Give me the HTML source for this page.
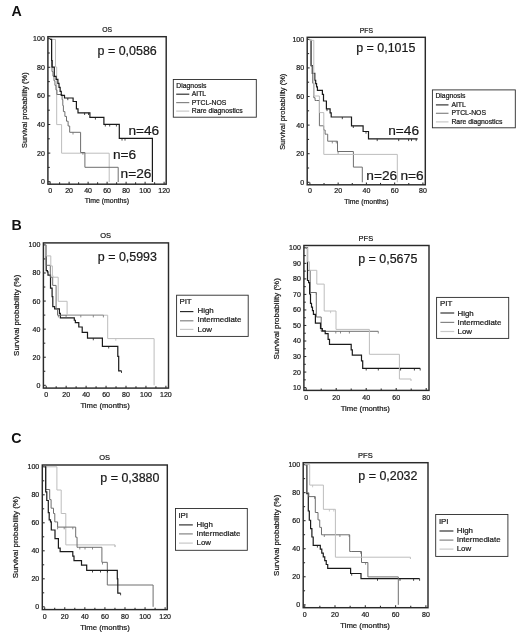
<!DOCTYPE html>
<html><head><meta charset="utf-8"><style>
html,body{margin:0;padding:0;background:#fff;}
svg{display:block;font-family:"Liberation Sans", sans-serif;filter:blur(0.3px);}
</style></head><body>
<svg width="520" height="638" viewBox="0 0 520 638">
<rect width="520" height="638" fill="#fff"/>
<line x1="50.10" y1="184.20" x2="50.10" y2="181.80" stroke="#2a2a2a" stroke-width="1.05"/>
<text x="50.10" y="192.90" font-size="7" text-anchor="middle" font-weight="normal" fill="#1a1a1a" stroke="#1a1a1a" stroke-width="0.22" >0</text>
<line x1="59.60" y1="184.20" x2="59.60" y2="182.30" stroke="#2a2a2a" stroke-width="1.05"/>
<line x1="69.10" y1="184.20" x2="69.10" y2="181.80" stroke="#2a2a2a" stroke-width="1.05"/>
<text x="69.10" y="192.90" font-size="7" text-anchor="middle" font-weight="normal" fill="#1a1a1a" stroke="#1a1a1a" stroke-width="0.22" >20</text>
<line x1="78.60" y1="184.20" x2="78.60" y2="182.30" stroke="#2a2a2a" stroke-width="1.05"/>
<line x1="88.10" y1="184.20" x2="88.10" y2="181.80" stroke="#2a2a2a" stroke-width="1.05"/>
<text x="88.10" y="192.90" font-size="7" text-anchor="middle" font-weight="normal" fill="#1a1a1a" stroke="#1a1a1a" stroke-width="0.22" >40</text>
<line x1="97.60" y1="184.20" x2="97.60" y2="182.30" stroke="#2a2a2a" stroke-width="1.05"/>
<line x1="107.10" y1="184.20" x2="107.10" y2="181.80" stroke="#2a2a2a" stroke-width="1.05"/>
<text x="107.10" y="192.90" font-size="7" text-anchor="middle" font-weight="normal" fill="#1a1a1a" stroke="#1a1a1a" stroke-width="0.22" >60</text>
<line x1="116.60" y1="184.20" x2="116.60" y2="182.30" stroke="#2a2a2a" stroke-width="1.05"/>
<line x1="126.10" y1="184.20" x2="126.10" y2="181.80" stroke="#2a2a2a" stroke-width="1.05"/>
<text x="126.10" y="192.90" font-size="7" text-anchor="middle" font-weight="normal" fill="#1a1a1a" stroke="#1a1a1a" stroke-width="0.22" >80</text>
<line x1="135.60" y1="184.20" x2="135.60" y2="182.30" stroke="#2a2a2a" stroke-width="1.05"/>
<line x1="145.10" y1="184.20" x2="145.10" y2="181.80" stroke="#2a2a2a" stroke-width="1.05"/>
<text x="145.10" y="192.90" font-size="7" text-anchor="middle" font-weight="normal" fill="#1a1a1a" stroke="#1a1a1a" stroke-width="0.22" >100</text>
<line x1="154.60" y1="184.20" x2="154.60" y2="182.30" stroke="#2a2a2a" stroke-width="1.05"/>
<line x1="164.10" y1="184.20" x2="164.10" y2="181.80" stroke="#2a2a2a" stroke-width="1.05"/>
<text x="164.10" y="192.90" font-size="7" text-anchor="middle" font-weight="normal" fill="#1a1a1a" stroke="#1a1a1a" stroke-width="0.22" >120</text>
<line x1="47.90" y1="167.40" x2="49.80" y2="167.40" stroke="#2a2a2a" stroke-width="1.05"/>
<line x1="47.90" y1="138.80" x2="49.80" y2="138.80" stroke="#2a2a2a" stroke-width="1.05"/>
<line x1="47.90" y1="110.20" x2="49.80" y2="110.20" stroke="#2a2a2a" stroke-width="1.05"/>
<line x1="47.90" y1="81.60" x2="49.80" y2="81.60" stroke="#2a2a2a" stroke-width="1.05"/>
<line x1="47.90" y1="53.00" x2="49.80" y2="53.00" stroke="#2a2a2a" stroke-width="1.05"/>
<line x1="47.90" y1="181.70" x2="50.30" y2="181.70" stroke="#2a2a2a" stroke-width="1.05"/>
<text x="44.80" y="184.15" font-size="7" text-anchor="end" font-weight="normal" fill="#1a1a1a" stroke="#1a1a1a" stroke-width="0.22" >0</text>
<line x1="47.90" y1="153.10" x2="50.30" y2="153.10" stroke="#2a2a2a" stroke-width="1.05"/>
<text x="44.80" y="155.55" font-size="7" text-anchor="end" font-weight="normal" fill="#1a1a1a" stroke="#1a1a1a" stroke-width="0.22" >20</text>
<line x1="47.90" y1="124.50" x2="50.30" y2="124.50" stroke="#2a2a2a" stroke-width="1.05"/>
<text x="44.80" y="126.95" font-size="7" text-anchor="end" font-weight="normal" fill="#1a1a1a" stroke="#1a1a1a" stroke-width="0.22" >40</text>
<line x1="47.90" y1="95.90" x2="50.30" y2="95.90" stroke="#2a2a2a" stroke-width="1.05"/>
<text x="44.80" y="98.35" font-size="7" text-anchor="end" font-weight="normal" fill="#1a1a1a" stroke="#1a1a1a" stroke-width="0.22" >60</text>
<line x1="47.90" y1="67.30" x2="50.30" y2="67.30" stroke="#2a2a2a" stroke-width="1.05"/>
<text x="44.80" y="69.75" font-size="7" text-anchor="end" font-weight="normal" fill="#1a1a1a" stroke="#1a1a1a" stroke-width="0.22" >80</text>
<line x1="47.90" y1="38.70" x2="50.30" y2="38.70" stroke="#2a2a2a" stroke-width="1.05"/>
<text x="44.80" y="41.15" font-size="7" text-anchor="end" font-weight="normal" fill="#1a1a1a" stroke="#1a1a1a" stroke-width="0.22" >100</text>
<path d="M50.10 39.40 H55.50 V67.00 H56.70 V124.60 H61.60 V153.20 H109.20 V182.00" fill="none" stroke="#bdbdbd" stroke-width="1.0" stroke-linejoin="miter"/>
<path d="M50.10 39.40 H51.60 V67.00 H52.00 V71.58 H52.98 V76.17 H53.97 V80.75 H54.95 V85.33 H55.93 V89.92 H56.92 V94.50 H57.90 H62.10 V99.60 H62.80 V105.60 H63.40 V111.60 H64.00 H64.90 V116.40 H66.50 V121.20 H68.10 V126.00 H69.70 V132.30 H80.60 V152.50 H84.90 V167.30 H118.20 V182.00" fill="none" stroke="#6e6e6e" stroke-width="1.0" stroke-linejoin="miter"/>
<path d="M50.10 39.40 H51.60 V60.50 H52.20 V67.10 H54.30 V73.30 V76.30 H56.10 V79.30 H57.90 V83.33 H59.02 V87.35 H60.15 V91.38 H61.27 V95.40 H62.40 H64.50 V98.00 H73.10 V101.50 H76.40 V105.00 V108.90 H78.00 V112.80 H79.60 H89.90 V117.40 H103.90 V124.30 H119.30 V138.40 H152.40 V182.00" fill="none" stroke="#1a1a1a" stroke-width="1.2" stroke-linejoin="miter"/>
<line x1="67.80" y1="98.00" x2="67.80" y2="100.20" stroke="#1a1a1a" stroke-width="0.8"/>
<line x1="84.60" y1="112.80" x2="84.60" y2="115.00" stroke="#1a1a1a" stroke-width="0.8"/>
<line x1="88.50" y1="112.80" x2="88.50" y2="115.00" stroke="#1a1a1a" stroke-width="0.8"/>
<line x1="95.40" y1="117.40" x2="95.40" y2="119.60" stroke="#1a1a1a" stroke-width="0.8"/>
<line x1="105.30" y1="124.30" x2="105.30" y2="126.50" stroke="#1a1a1a" stroke-width="0.8"/>
<line x1="109.70" y1="124.30" x2="109.70" y2="126.50" stroke="#1a1a1a" stroke-width="0.8"/>
<line x1="116.40" y1="124.30" x2="116.40" y2="126.50" stroke="#1a1a1a" stroke-width="0.8"/>
<line x1="122.00" y1="138.40" x2="122.00" y2="140.60" stroke="#1a1a1a" stroke-width="0.8"/>
<line x1="125.00" y1="138.40" x2="125.00" y2="140.60" stroke="#1a1a1a" stroke-width="0.8"/>
<line x1="73.00" y1="132.30" x2="73.00" y2="134.50" stroke="#6e6e6e" stroke-width="0.8"/>
<line x1="82.90" y1="152.50" x2="82.90" y2="154.70" stroke="#6e6e6e" stroke-width="0.8"/>
<rect x="47.90" y="36.70" width="118.30" height="147.50" fill="none" stroke="#2a2a2a" stroke-width="1.45"/>
<text x="107.05" y="32.20" font-size="6.8" text-anchor="middle" font-weight="normal" fill="#1a1a1a" stroke="#1a1a1a" stroke-width="0.22" >OS</text>
<text x="97.60" y="54.75" font-size="12.45" text-anchor="start" font-weight="normal" fill="#1a1a1a" stroke="#1a1a1a" stroke-width="0.22" >p = 0,0586</text>
<text x="106.90" y="202.90" font-size="6.9" text-anchor="middle" font-weight="normal" fill="#1a1a1a" stroke="#1a1a1a" stroke-width="0.22" >Time (months)</text>
<text x="27.00" y="110.20" font-size="7.4" text-anchor="middle" font-weight="normal" fill="#1a1a1a" stroke="#1a1a1a" stroke-width="0.22" transform="rotate(-90 27.00 110.20)">Survival probability (%)</text>
<text x="128.40" y="134.80" font-size="13.7" text-anchor="start" font-weight="normal" fill="#1a1a1a" stroke="#1a1a1a" stroke-width="0.22" >n=46</text>
<text x="112.90" y="158.70" font-size="13.7" text-anchor="start" font-weight="normal" fill="#1a1a1a" stroke="#1a1a1a" stroke-width="0.22" >n=6</text>
<text x="120.60" y="178.30" font-size="13.7" text-anchor="start" font-weight="normal" fill="#1a1a1a" stroke="#1a1a1a" stroke-width="0.22" >n=26</text>
<rect x="173.30" y="79.50" width="83.00" height="37.70" fill="none" stroke="#2a2a2a" stroke-width="0.9"/>
<text x="176.30" y="87.70" font-size="6.85" text-anchor="start" font-weight="normal" fill="#1a1a1a" stroke="#1a1a1a" stroke-width="0.22" >Diagnosis</text>
<line x1="176.20" y1="94.20" x2="189.30" y2="94.20" stroke="#2a2a2a" stroke-width="1.15"/>
<text x="191.70" y="95.80" font-size="6.85" text-anchor="start" font-weight="normal" fill="#1a1a1a" stroke="#1a1a1a" stroke-width="0.22" >AITL</text>
<line x1="176.20" y1="102.60" x2="189.30" y2="102.60" stroke="#858585" stroke-width="1.2"/>
<text x="191.70" y="104.90" font-size="6.85" text-anchor="start" font-weight="normal" fill="#1a1a1a" stroke="#1a1a1a" stroke-width="0.22" >PTCL-NOS</text>
<line x1="176.20" y1="111.10" x2="189.30" y2="111.10" stroke="#c8c8c8" stroke-width="1.2"/>
<text x="191.70" y="113.40" font-size="6.85" text-anchor="start" font-weight="normal" fill="#1a1a1a" stroke="#1a1a1a" stroke-width="0.22" >Rare diagnostics</text>
<line x1="309.90" y1="184.80" x2="309.90" y2="182.40" stroke="#2a2a2a" stroke-width="1.05"/>
<text x="309.90" y="193.40" font-size="7" text-anchor="middle" font-weight="normal" fill="#1a1a1a" stroke="#1a1a1a" stroke-width="0.22" >0</text>
<line x1="324.02" y1="184.80" x2="324.02" y2="182.90" stroke="#2a2a2a" stroke-width="1.05"/>
<line x1="338.15" y1="184.80" x2="338.15" y2="182.40" stroke="#2a2a2a" stroke-width="1.05"/>
<text x="338.15" y="193.40" font-size="7" text-anchor="middle" font-weight="normal" fill="#1a1a1a" stroke="#1a1a1a" stroke-width="0.22" >20</text>
<line x1="352.27" y1="184.80" x2="352.27" y2="182.90" stroke="#2a2a2a" stroke-width="1.05"/>
<line x1="366.40" y1="184.80" x2="366.40" y2="182.40" stroke="#2a2a2a" stroke-width="1.05"/>
<text x="366.40" y="193.40" font-size="7" text-anchor="middle" font-weight="normal" fill="#1a1a1a" stroke="#1a1a1a" stroke-width="0.22" >40</text>
<line x1="380.52" y1="184.80" x2="380.52" y2="182.90" stroke="#2a2a2a" stroke-width="1.05"/>
<line x1="394.65" y1="184.80" x2="394.65" y2="182.40" stroke="#2a2a2a" stroke-width="1.05"/>
<text x="394.65" y="193.40" font-size="7" text-anchor="middle" font-weight="normal" fill="#1a1a1a" stroke="#1a1a1a" stroke-width="0.22" >60</text>
<line x1="408.77" y1="184.80" x2="408.77" y2="182.90" stroke="#2a2a2a" stroke-width="1.05"/>
<line x1="422.90" y1="184.80" x2="422.90" y2="182.40" stroke="#2a2a2a" stroke-width="1.05"/>
<text x="422.90" y="193.40" font-size="7" text-anchor="middle" font-weight="normal" fill="#1a1a1a" stroke="#1a1a1a" stroke-width="0.22" >80</text>
<line x1="307.20" y1="168.00" x2="309.10" y2="168.00" stroke="#2a2a2a" stroke-width="1.05"/>
<line x1="307.20" y1="139.40" x2="309.10" y2="139.40" stroke="#2a2a2a" stroke-width="1.05"/>
<line x1="307.20" y1="110.80" x2="309.10" y2="110.80" stroke="#2a2a2a" stroke-width="1.05"/>
<line x1="307.20" y1="82.20" x2="309.10" y2="82.20" stroke="#2a2a2a" stroke-width="1.05"/>
<line x1="307.20" y1="53.60" x2="309.10" y2="53.60" stroke="#2a2a2a" stroke-width="1.05"/>
<line x1="307.20" y1="182.30" x2="309.60" y2="182.30" stroke="#2a2a2a" stroke-width="1.05"/>
<text x="304.10" y="184.75" font-size="7" text-anchor="end" font-weight="normal" fill="#1a1a1a" stroke="#1a1a1a" stroke-width="0.22" >0</text>
<line x1="307.20" y1="153.70" x2="309.60" y2="153.70" stroke="#2a2a2a" stroke-width="1.05"/>
<text x="304.10" y="156.15" font-size="7" text-anchor="end" font-weight="normal" fill="#1a1a1a" stroke="#1a1a1a" stroke-width="0.22" >20</text>
<line x1="307.20" y1="125.10" x2="309.60" y2="125.10" stroke="#2a2a2a" stroke-width="1.05"/>
<text x="304.10" y="127.55" font-size="7" text-anchor="end" font-weight="normal" fill="#1a1a1a" stroke="#1a1a1a" stroke-width="0.22" >40</text>
<line x1="307.20" y1="96.50" x2="309.60" y2="96.50" stroke="#2a2a2a" stroke-width="1.05"/>
<text x="304.10" y="98.95" font-size="7" text-anchor="end" font-weight="normal" fill="#1a1a1a" stroke="#1a1a1a" stroke-width="0.22" >60</text>
<line x1="307.20" y1="67.90" x2="309.60" y2="67.90" stroke="#2a2a2a" stroke-width="1.05"/>
<text x="304.10" y="70.35" font-size="7" text-anchor="end" font-weight="normal" fill="#1a1a1a" stroke="#1a1a1a" stroke-width="0.22" >80</text>
<line x1="307.20" y1="39.30" x2="309.60" y2="39.30" stroke="#2a2a2a" stroke-width="1.05"/>
<text x="304.10" y="41.75" font-size="7" text-anchor="end" font-weight="normal" fill="#1a1a1a" stroke="#1a1a1a" stroke-width="0.22" >100</text>
<path d="M309.90 40.30 H311.10 V65.60 H312.30 V73.30 H314.80 V76.90 V80.25 H315.68 V83.60 H316.55 V86.95 H317.43 V90.30 H318.30 H322.40 V94.40 H323.50 V101.00 H326.40 V108.90 H330.10 V112.95 H331.20 V117.00 H332.30 H351.50 V125.80 H363.10 V131.50 H368.50 V138.90 H417.60" fill="none" stroke="#1a1a1a" stroke-width="1.2" stroke-linejoin="miter"/>
<path d="M309.90 40.30 H311.10 V66.00 H312.70 V83.20 H313.80 V95.00 V97.75 H315.05 V100.50 H316.30 H319.40 V125.80 H323.70 V130.00 H325.10 V134.20 H326.50 H327.70 V141.20 H337.50 V151.50 H353.40 V167.10 H362.30 V182.30" fill="none" stroke="#6e6e6e" stroke-width="1.0" stroke-linejoin="miter"/>
<path d="M309.90 40.30 H313.80 V96.00 H319.40 V112.60 H323.80 V154.40 H397.30 V182.30" fill="none" stroke="#bdbdbd" stroke-width="1.0" stroke-linejoin="miter"/>
<line x1="327.00" y1="108.90" x2="327.00" y2="111.10" stroke="#1a1a1a" stroke-width="0.8"/>
<line x1="342.30" y1="117.00" x2="342.30" y2="119.20" stroke="#1a1a1a" stroke-width="0.8"/>
<line x1="353.30" y1="125.80" x2="353.30" y2="128.00" stroke="#1a1a1a" stroke-width="0.8"/>
<line x1="366.00" y1="131.50" x2="366.00" y2="133.70" stroke="#1a1a1a" stroke-width="0.8"/>
<line x1="377.20" y1="138.90" x2="377.20" y2="141.10" stroke="#1a1a1a" stroke-width="0.8"/>
<line x1="398.70" y1="138.90" x2="398.70" y2="141.10" stroke="#1a1a1a" stroke-width="0.8"/>
<line x1="408.60" y1="138.90" x2="408.60" y2="141.10" stroke="#1a1a1a" stroke-width="0.8"/>
<line x1="411.50" y1="138.90" x2="411.50" y2="141.10" stroke="#1a1a1a" stroke-width="0.8"/>
<line x1="416.20" y1="138.90" x2="416.20" y2="141.10" stroke="#1a1a1a" stroke-width="0.8"/>
<line x1="332.30" y1="141.20" x2="332.30" y2="143.40" stroke="#6e6e6e" stroke-width="0.8"/>
<line x1="336.30" y1="141.20" x2="336.30" y2="143.40" stroke="#6e6e6e" stroke-width="0.8"/>
<line x1="338.10" y1="151.50" x2="338.10" y2="153.70" stroke="#6e6e6e" stroke-width="0.8"/>
<rect x="307.20" y="37.30" width="118.10" height="147.50" fill="none" stroke="#2a2a2a" stroke-width="1.45"/>
<text x="366.40" y="33.10" font-size="6.8" text-anchor="middle" font-weight="normal" fill="#1a1a1a" stroke="#1a1a1a" stroke-width="0.22" >PFS</text>
<text x="356.20" y="51.90" font-size="12.45" text-anchor="start" font-weight="normal" fill="#1a1a1a" stroke="#1a1a1a" stroke-width="0.22" >p = 0,1015</text>
<text x="366.40" y="204.10" font-size="6.9" text-anchor="middle" font-weight="normal" fill="#1a1a1a" stroke="#1a1a1a" stroke-width="0.22" >Time (months)</text>
<text x="285.10" y="111.80" font-size="7.45" text-anchor="middle" font-weight="normal" fill="#1a1a1a" stroke="#1a1a1a" stroke-width="0.22" transform="rotate(-90 285.10 111.80)">Survival probability (%)</text>
<text x="388.20" y="135.30" font-size="13.7" text-anchor="start" font-weight="normal" fill="#1a1a1a" stroke="#1a1a1a" stroke-width="0.22" >n=46</text>
<text x="366.30" y="179.80" font-size="13.7" text-anchor="start" font-weight="normal" fill="#1a1a1a" stroke="#1a1a1a" stroke-width="0.22" >n=26</text>
<text x="400.50" y="179.80" font-size="13.7" text-anchor="start" font-weight="normal" fill="#1a1a1a" stroke="#1a1a1a" stroke-width="0.22" >n=6</text>
<rect x="432.40" y="89.90" width="82.90" height="37.90" fill="none" stroke="#2a2a2a" stroke-width="0.9"/>
<text x="435.40" y="97.70" font-size="6.85" text-anchor="start" font-weight="normal" fill="#1a1a1a" stroke="#1a1a1a" stroke-width="0.22" >Diagnosis</text>
<line x1="435.90" y1="104.90" x2="448.50" y2="104.90" stroke="#2a2a2a" stroke-width="1.15"/>
<text x="451.40" y="106.60" font-size="6.85" text-anchor="start" font-weight="normal" fill="#1a1a1a" stroke="#1a1a1a" stroke-width="0.22" >AITL</text>
<line x1="435.90" y1="113.30" x2="448.50" y2="113.30" stroke="#858585" stroke-width="1.2"/>
<text x="451.40" y="115.00" font-size="6.85" text-anchor="start" font-weight="normal" fill="#1a1a1a" stroke="#1a1a1a" stroke-width="0.22" >PTCL-NOS</text>
<line x1="435.90" y1="121.90" x2="448.50" y2="121.90" stroke="#c8c8c8" stroke-width="1.2"/>
<text x="451.40" y="123.60" font-size="6.85" text-anchor="start" font-weight="normal" fill="#1a1a1a" stroke="#1a1a1a" stroke-width="0.22" >Rare diagnostics</text>
<line x1="46.20" y1="388.10" x2="46.20" y2="385.70" stroke="#2a2a2a" stroke-width="1.05"/>
<text x="46.20" y="397.25" font-size="7" text-anchor="middle" font-weight="normal" fill="#1a1a1a" stroke="#1a1a1a" stroke-width="0.22" >0</text>
<line x1="56.18" y1="388.10" x2="56.18" y2="386.20" stroke="#2a2a2a" stroke-width="1.05"/>
<line x1="66.15" y1="388.10" x2="66.15" y2="385.70" stroke="#2a2a2a" stroke-width="1.05"/>
<text x="66.15" y="397.25" font-size="7" text-anchor="middle" font-weight="normal" fill="#1a1a1a" stroke="#1a1a1a" stroke-width="0.22" >20</text>
<line x1="76.12" y1="388.10" x2="76.12" y2="386.20" stroke="#2a2a2a" stroke-width="1.05"/>
<line x1="86.10" y1="388.10" x2="86.10" y2="385.70" stroke="#2a2a2a" stroke-width="1.05"/>
<text x="86.10" y="397.25" font-size="7" text-anchor="middle" font-weight="normal" fill="#1a1a1a" stroke="#1a1a1a" stroke-width="0.22" >40</text>
<line x1="96.08" y1="388.10" x2="96.08" y2="386.20" stroke="#2a2a2a" stroke-width="1.05"/>
<line x1="106.05" y1="388.10" x2="106.05" y2="385.70" stroke="#2a2a2a" stroke-width="1.05"/>
<text x="106.05" y="397.25" font-size="7" text-anchor="middle" font-weight="normal" fill="#1a1a1a" stroke="#1a1a1a" stroke-width="0.22" >60</text>
<line x1="116.03" y1="388.10" x2="116.03" y2="386.20" stroke="#2a2a2a" stroke-width="1.05"/>
<line x1="126.00" y1="388.10" x2="126.00" y2="385.70" stroke="#2a2a2a" stroke-width="1.05"/>
<text x="126.00" y="397.25" font-size="7" text-anchor="middle" font-weight="normal" fill="#1a1a1a" stroke="#1a1a1a" stroke-width="0.22" >80</text>
<line x1="135.98" y1="388.10" x2="135.98" y2="386.20" stroke="#2a2a2a" stroke-width="1.05"/>
<line x1="145.95" y1="388.10" x2="145.95" y2="385.70" stroke="#2a2a2a" stroke-width="1.05"/>
<text x="145.95" y="397.25" font-size="7" text-anchor="middle" font-weight="normal" fill="#1a1a1a" stroke="#1a1a1a" stroke-width="0.22" >100</text>
<line x1="155.93" y1="388.10" x2="155.93" y2="386.20" stroke="#2a2a2a" stroke-width="1.05"/>
<line x1="165.90" y1="388.10" x2="165.90" y2="385.70" stroke="#2a2a2a" stroke-width="1.05"/>
<text x="165.90" y="397.25" font-size="7" text-anchor="middle" font-weight="normal" fill="#1a1a1a" stroke="#1a1a1a" stroke-width="0.22" >120</text>
<line x1="43.40" y1="371.26" x2="45.30" y2="371.26" stroke="#2a2a2a" stroke-width="1.05"/>
<line x1="43.40" y1="343.18" x2="45.30" y2="343.18" stroke="#2a2a2a" stroke-width="1.05"/>
<line x1="43.40" y1="315.10" x2="45.30" y2="315.10" stroke="#2a2a2a" stroke-width="1.05"/>
<line x1="43.40" y1="287.02" x2="45.30" y2="287.02" stroke="#2a2a2a" stroke-width="1.05"/>
<line x1="43.40" y1="258.94" x2="45.30" y2="258.94" stroke="#2a2a2a" stroke-width="1.05"/>
<line x1="43.40" y1="385.30" x2="45.80" y2="385.30" stroke="#2a2a2a" stroke-width="1.05"/>
<text x="40.30" y="387.75" font-size="7" text-anchor="end" font-weight="normal" fill="#1a1a1a" stroke="#1a1a1a" stroke-width="0.22" >0</text>
<line x1="43.40" y1="357.22" x2="45.80" y2="357.22" stroke="#2a2a2a" stroke-width="1.05"/>
<text x="40.30" y="359.67" font-size="7" text-anchor="end" font-weight="normal" fill="#1a1a1a" stroke="#1a1a1a" stroke-width="0.22" >20</text>
<line x1="43.40" y1="329.14" x2="45.80" y2="329.14" stroke="#2a2a2a" stroke-width="1.05"/>
<text x="40.30" y="331.59" font-size="7" text-anchor="end" font-weight="normal" fill="#1a1a1a" stroke="#1a1a1a" stroke-width="0.22" >40</text>
<line x1="43.40" y1="301.06" x2="45.80" y2="301.06" stroke="#2a2a2a" stroke-width="1.05"/>
<text x="40.30" y="303.51" font-size="7" text-anchor="end" font-weight="normal" fill="#1a1a1a" stroke="#1a1a1a" stroke-width="0.22" >60</text>
<line x1="43.40" y1="272.98" x2="45.80" y2="272.98" stroke="#2a2a2a" stroke-width="1.05"/>
<text x="40.30" y="275.43" font-size="7" text-anchor="end" font-weight="normal" fill="#1a1a1a" stroke="#1a1a1a" stroke-width="0.22" >80</text>
<line x1="43.40" y1="244.90" x2="45.80" y2="244.90" stroke="#2a2a2a" stroke-width="1.05"/>
<text x="40.30" y="247.35" font-size="7" text-anchor="end" font-weight="normal" fill="#1a1a1a" stroke="#1a1a1a" stroke-width="0.22" >100</text>
<path d="M46.20 244.90 V270.60 H47.40 V271.80 H48.00 V275.10 H50.50 V288.10 H52.10 V296.60 H52.80 V304.30 V306.60 H54.65 V308.90 H56.50 H59.40 V313.35 H60.35 V317.80 H61.30 H74.30 V320.25 H75.35 V322.70 H76.40 H78.80 V327.00 H82.20 V332.30 H87.50 V338.10 H102.40 V346.30 H117.80 V356.30 H118.70 V370.80 H121.50" fill="none" stroke="#1a1a1a" stroke-width="1.2" stroke-linejoin="miter"/>
<path d="M46.20 244.90 V265.30 H50.30 V277.20 H52.70 V285.40 H56.10 V309.00 H57.50 V315.20 H103.40" fill="none" stroke="#6e6e6e" stroke-width="1.0" stroke-linejoin="miter"/>
<path d="M46.20 244.90 V255.90 H50.80 V265.90 H52.40 V275.60 H53.00 V277.20 H58.20 V301.30 H67.10 V315.20 H107.70 V338.60 H154.10 V385.30" fill="none" stroke="#bdbdbd" stroke-width="1.0" stroke-linejoin="miter"/>
<line x1="93.30" y1="338.10" x2="93.30" y2="340.30" stroke="#1a1a1a" stroke-width="0.8"/>
<line x1="108.70" y1="346.30" x2="108.70" y2="348.50" stroke="#1a1a1a" stroke-width="0.8"/>
<line x1="121.50" y1="370.80" x2="121.50" y2="373.00" stroke="#1a1a1a" stroke-width="0.8"/>
<line x1="58.40" y1="315.20" x2="58.40" y2="317.40" stroke="#6e6e6e" stroke-width="0.8"/>
<line x1="66.10" y1="315.20" x2="66.10" y2="317.40" stroke="#6e6e6e" stroke-width="0.8"/>
<line x1="80.80" y1="315.20" x2="80.80" y2="317.40" stroke="#6e6e6e" stroke-width="0.8"/>
<line x1="93.30" y1="315.20" x2="93.30" y2="317.40" stroke="#6e6e6e" stroke-width="0.8"/>
<line x1="103.40" y1="315.20" x2="103.40" y2="317.40" stroke="#6e6e6e" stroke-width="0.8"/>
<line x1="115.80" y1="338.60" x2="115.80" y2="340.80" stroke="#bdbdbd" stroke-width="0.8"/>
<rect x="43.40" y="242.90" width="125.10" height="145.20" fill="none" stroke="#2a2a2a" stroke-width="1.45"/>
<text x="105.70" y="238.20" font-size="7.5" text-anchor="middle" font-weight="normal" fill="#1a1a1a" stroke="#1a1a1a" stroke-width="0.22" >OS</text>
<text x="97.80" y="260.70" font-size="12.45" text-anchor="start" font-weight="normal" fill="#1a1a1a" stroke="#1a1a1a" stroke-width="0.22" >p = 0,5993</text>
<text x="105.10" y="408.30" font-size="7.7" text-anchor="middle" font-weight="normal" fill="#1a1a1a" stroke="#1a1a1a" stroke-width="0.22" >Time (months)</text>
<text x="19.30" y="315.30" font-size="7.95" text-anchor="middle" font-weight="normal" fill="#1a1a1a" stroke="#1a1a1a" stroke-width="0.22" transform="rotate(-90 19.30 315.30)">Survival probability (%)</text>
<rect x="176.60" y="295.20" width="71.60" height="41.20" fill="none" stroke="#2a2a2a" stroke-width="0.9"/>
<text x="179.40" y="303.80" font-size="7.9" text-anchor="start" font-weight="normal" fill="#1a1a1a" stroke="#1a1a1a" stroke-width="0.22" >PIT</text>
<line x1="180.00" y1="311.60" x2="193.40" y2="311.60" stroke="#2a2a2a" stroke-width="1.15"/>
<text x="197.50" y="313.40" font-size="7.9" text-anchor="start" font-weight="normal" fill="#1a1a1a" stroke="#1a1a1a" stroke-width="0.22" >High</text>
<line x1="180.00" y1="320.80" x2="193.40" y2="320.80" stroke="#858585" stroke-width="1.2"/>
<text x="197.50" y="322.40" font-size="7.9" text-anchor="start" font-weight="normal" fill="#1a1a1a" stroke="#1a1a1a" stroke-width="0.22" >Intermediate</text>
<line x1="180.00" y1="329.40" x2="193.40" y2="329.40" stroke="#c8c8c8" stroke-width="1.2"/>
<text x="197.50" y="331.50" font-size="7.9" text-anchor="start" font-weight="normal" fill="#1a1a1a" stroke="#1a1a1a" stroke-width="0.22" >Low</text>
<line x1="306.20" y1="390.40" x2="306.20" y2="388.00" stroke="#2a2a2a" stroke-width="1.05"/>
<text x="306.20" y="399.50" font-size="7" text-anchor="middle" font-weight="normal" fill="#1a1a1a" stroke="#1a1a1a" stroke-width="0.22" >0</text>
<line x1="321.20" y1="390.40" x2="321.20" y2="388.50" stroke="#2a2a2a" stroke-width="1.05"/>
<line x1="336.20" y1="390.40" x2="336.20" y2="388.00" stroke="#2a2a2a" stroke-width="1.05"/>
<text x="336.20" y="399.50" font-size="7" text-anchor="middle" font-weight="normal" fill="#1a1a1a" stroke="#1a1a1a" stroke-width="0.22" >20</text>
<line x1="351.20" y1="390.40" x2="351.20" y2="388.50" stroke="#2a2a2a" stroke-width="1.05"/>
<line x1="366.20" y1="390.40" x2="366.20" y2="388.00" stroke="#2a2a2a" stroke-width="1.05"/>
<text x="366.20" y="399.50" font-size="7" text-anchor="middle" font-weight="normal" fill="#1a1a1a" stroke="#1a1a1a" stroke-width="0.22" >40</text>
<line x1="381.20" y1="390.40" x2="381.20" y2="388.50" stroke="#2a2a2a" stroke-width="1.05"/>
<line x1="396.20" y1="390.40" x2="396.20" y2="388.00" stroke="#2a2a2a" stroke-width="1.05"/>
<text x="396.20" y="399.50" font-size="7" text-anchor="middle" font-weight="normal" fill="#1a1a1a" stroke="#1a1a1a" stroke-width="0.22" >60</text>
<line x1="411.20" y1="390.40" x2="411.20" y2="388.50" stroke="#2a2a2a" stroke-width="1.05"/>
<line x1="426.20" y1="390.40" x2="426.20" y2="388.00" stroke="#2a2a2a" stroke-width="1.05"/>
<text x="426.20" y="399.50" font-size="7" text-anchor="middle" font-weight="normal" fill="#1a1a1a" stroke="#1a1a1a" stroke-width="0.22" >80</text>
<line x1="303.90" y1="379.84" x2="305.80" y2="379.84" stroke="#2a2a2a" stroke-width="1.05"/>
<line x1="303.90" y1="364.31" x2="305.80" y2="364.31" stroke="#2a2a2a" stroke-width="1.05"/>
<line x1="303.90" y1="348.78" x2="305.80" y2="348.78" stroke="#2a2a2a" stroke-width="1.05"/>
<line x1="303.90" y1="333.25" x2="305.80" y2="333.25" stroke="#2a2a2a" stroke-width="1.05"/>
<line x1="303.90" y1="317.72" x2="305.80" y2="317.72" stroke="#2a2a2a" stroke-width="1.05"/>
<line x1="303.90" y1="302.19" x2="305.80" y2="302.19" stroke="#2a2a2a" stroke-width="1.05"/>
<line x1="303.90" y1="286.66" x2="305.80" y2="286.66" stroke="#2a2a2a" stroke-width="1.05"/>
<line x1="303.90" y1="271.12" x2="305.80" y2="271.12" stroke="#2a2a2a" stroke-width="1.05"/>
<line x1="303.90" y1="255.60" x2="305.80" y2="255.60" stroke="#2a2a2a" stroke-width="1.05"/>
<line x1="303.90" y1="387.60" x2="306.30" y2="387.60" stroke="#2a2a2a" stroke-width="1.05"/>
<text x="300.80" y="390.05" font-size="7" text-anchor="end" font-weight="normal" fill="#1a1a1a" stroke="#1a1a1a" stroke-width="0.22" >10</text>
<line x1="303.90" y1="372.07" x2="306.30" y2="372.07" stroke="#2a2a2a" stroke-width="1.05"/>
<text x="300.80" y="374.52" font-size="7" text-anchor="end" font-weight="normal" fill="#1a1a1a" stroke="#1a1a1a" stroke-width="0.22" >20</text>
<line x1="303.90" y1="356.54" x2="306.30" y2="356.54" stroke="#2a2a2a" stroke-width="1.05"/>
<text x="300.80" y="358.99" font-size="7" text-anchor="end" font-weight="normal" fill="#1a1a1a" stroke="#1a1a1a" stroke-width="0.22" >30</text>
<line x1="303.90" y1="341.01" x2="306.30" y2="341.01" stroke="#2a2a2a" stroke-width="1.05"/>
<text x="300.80" y="343.46" font-size="7" text-anchor="end" font-weight="normal" fill="#1a1a1a" stroke="#1a1a1a" stroke-width="0.22" >40</text>
<line x1="303.90" y1="325.48" x2="306.30" y2="325.48" stroke="#2a2a2a" stroke-width="1.05"/>
<text x="300.80" y="327.93" font-size="7" text-anchor="end" font-weight="normal" fill="#1a1a1a" stroke="#1a1a1a" stroke-width="0.22" >50</text>
<line x1="303.90" y1="309.95" x2="306.30" y2="309.95" stroke="#2a2a2a" stroke-width="1.05"/>
<text x="300.80" y="312.40" font-size="7" text-anchor="end" font-weight="normal" fill="#1a1a1a" stroke="#1a1a1a" stroke-width="0.22" >60</text>
<line x1="303.90" y1="294.42" x2="306.30" y2="294.42" stroke="#2a2a2a" stroke-width="1.05"/>
<text x="300.80" y="296.87" font-size="7" text-anchor="end" font-weight="normal" fill="#1a1a1a" stroke="#1a1a1a" stroke-width="0.22" >70</text>
<line x1="303.90" y1="278.89" x2="306.30" y2="278.89" stroke="#2a2a2a" stroke-width="1.05"/>
<text x="300.80" y="281.34" font-size="7" text-anchor="end" font-weight="normal" fill="#1a1a1a" stroke="#1a1a1a" stroke-width="0.22" >80</text>
<line x1="303.90" y1="263.36" x2="306.30" y2="263.36" stroke="#2a2a2a" stroke-width="1.05"/>
<text x="300.80" y="265.81" font-size="7" text-anchor="end" font-weight="normal" fill="#1a1a1a" stroke="#1a1a1a" stroke-width="0.22" >90</text>
<line x1="303.90" y1="247.83" x2="306.30" y2="247.83" stroke="#2a2a2a" stroke-width="1.05"/>
<text x="300.80" y="250.28" font-size="7" text-anchor="end" font-weight="normal" fill="#1a1a1a" stroke="#1a1a1a" stroke-width="0.22" >100</text>
<path d="M306.20 247.80 H307.50 V270.40 H310.20 V292.50 H316.30 V317.00 H321.20 V331.30 H378.30" fill="none" stroke="#6e6e6e" stroke-width="1.0" stroke-linejoin="miter"/>
<path d="M306.20 247.80 H307.50 V280.50 H308.60 V282.60 H309.60 V294.00 H310.50 V303.40 H311.50 V307.03 H312.47 V310.67 H313.43 V314.30 H314.40 H315.40 V323.10 H320.50 V328.50 H322.30 V330.80 H325.20 V333.70 H328.10 V339.40 H329.50 V344.40 H351.20 V349.80 H352.30 V355.20 H361.50 V360.80 H362.70 V368.30 H420.20" fill="none" stroke="#1a1a1a" stroke-width="1.2" stroke-linejoin="miter"/>
<path d="M306.20 247.80 H307.50 V261.80 H309.40 V270.30 H316.80 V284.10 H324.20 V311.00 H336.00 V329.40 H369.40 V354.30 H399.40 V379.00 H411.00 V381.00" fill="none" stroke="#bdbdbd" stroke-width="1.0" stroke-linejoin="miter"/>
<line x1="366.20" y1="368.30" x2="366.20" y2="370.50" stroke="#1a1a1a" stroke-width="0.8"/>
<line x1="378.30" y1="368.30" x2="378.30" y2="370.50" stroke="#1a1a1a" stroke-width="0.8"/>
<line x1="400.60" y1="368.30" x2="400.60" y2="370.50" stroke="#1a1a1a" stroke-width="0.8"/>
<line x1="414.40" y1="368.30" x2="414.40" y2="370.50" stroke="#1a1a1a" stroke-width="0.8"/>
<line x1="420.20" y1="368.30" x2="420.20" y2="370.50" stroke="#1a1a1a" stroke-width="0.8"/>
<line x1="316.30" y1="292.50" x2="316.30" y2="294.70" stroke="#6e6e6e" stroke-width="0.8"/>
<line x1="335.80" y1="331.30" x2="335.80" y2="333.50" stroke="#6e6e6e" stroke-width="0.8"/>
<line x1="340.50" y1="331.30" x2="340.50" y2="333.50" stroke="#6e6e6e" stroke-width="0.8"/>
<line x1="349.40" y1="331.30" x2="349.40" y2="333.50" stroke="#6e6e6e" stroke-width="0.8"/>
<line x1="378.30" y1="331.30" x2="378.30" y2="333.50" stroke="#6e6e6e" stroke-width="0.8"/>
<line x1="330.60" y1="311.00" x2="330.60" y2="313.20" stroke="#bdbdbd" stroke-width="0.8"/>
<rect x="303.90" y="245.50" width="125.10" height="144.90" fill="none" stroke="#2a2a2a" stroke-width="1.45"/>
<text x="365.90" y="240.50" font-size="7.5" text-anchor="middle" font-weight="normal" fill="#1a1a1a" stroke="#1a1a1a" stroke-width="0.22" >PFS</text>
<text x="358.20" y="262.60" font-size="12.45" text-anchor="start" font-weight="normal" fill="#1a1a1a" stroke="#1a1a1a" stroke-width="0.22" >p = 0,5675</text>
<text x="365.30" y="410.80" font-size="7.7" text-anchor="middle" font-weight="normal" fill="#1a1a1a" stroke="#1a1a1a" stroke-width="0.22" >Time (months)</text>
<text x="279.30" y="318.80" font-size="7.95" text-anchor="middle" font-weight="normal" fill="#1a1a1a" stroke="#1a1a1a" stroke-width="0.22" transform="rotate(-90 279.30 318.80)">Survival probability (%)</text>
<rect x="436.60" y="297.40" width="72.10" height="41.00" fill="none" stroke="#2a2a2a" stroke-width="0.9"/>
<text x="440.10" y="306.40" font-size="7.9" text-anchor="start" font-weight="normal" fill="#1a1a1a" stroke="#1a1a1a" stroke-width="0.22" >PIT</text>
<line x1="440.40" y1="313.00" x2="454.20" y2="313.00" stroke="#2a2a2a" stroke-width="1.15"/>
<text x="457.50" y="315.60" font-size="7.9" text-anchor="start" font-weight="normal" fill="#1a1a1a" stroke="#1a1a1a" stroke-width="0.22" >High</text>
<line x1="440.40" y1="322.40" x2="454.20" y2="322.40" stroke="#858585" stroke-width="1.2"/>
<text x="457.50" y="324.60" font-size="7.9" text-anchor="start" font-weight="normal" fill="#1a1a1a" stroke="#1a1a1a" stroke-width="0.22" >Intermediate</text>
<line x1="440.40" y1="331.50" x2="454.20" y2="331.50" stroke="#c8c8c8" stroke-width="1.2"/>
<text x="457.50" y="333.60" font-size="7.9" text-anchor="start" font-weight="normal" fill="#1a1a1a" stroke="#1a1a1a" stroke-width="0.22" >Low</text>
<line x1="44.70" y1="609.60" x2="44.70" y2="607.20" stroke="#2a2a2a" stroke-width="1.05"/>
<text x="44.70" y="618.75" font-size="7" text-anchor="middle" font-weight="normal" fill="#1a1a1a" stroke="#1a1a1a" stroke-width="0.22" >0</text>
<line x1="54.73" y1="609.60" x2="54.73" y2="607.70" stroke="#2a2a2a" stroke-width="1.05"/>
<line x1="64.77" y1="609.60" x2="64.77" y2="607.20" stroke="#2a2a2a" stroke-width="1.05"/>
<text x="64.77" y="618.75" font-size="7" text-anchor="middle" font-weight="normal" fill="#1a1a1a" stroke="#1a1a1a" stroke-width="0.22" >20</text>
<line x1="74.81" y1="609.60" x2="74.81" y2="607.70" stroke="#2a2a2a" stroke-width="1.05"/>
<line x1="84.84" y1="609.60" x2="84.84" y2="607.20" stroke="#2a2a2a" stroke-width="1.05"/>
<text x="84.84" y="618.75" font-size="7" text-anchor="middle" font-weight="normal" fill="#1a1a1a" stroke="#1a1a1a" stroke-width="0.22" >40</text>
<line x1="94.88" y1="609.60" x2="94.88" y2="607.70" stroke="#2a2a2a" stroke-width="1.05"/>
<line x1="104.91" y1="609.60" x2="104.91" y2="607.20" stroke="#2a2a2a" stroke-width="1.05"/>
<text x="104.91" y="618.75" font-size="7" text-anchor="middle" font-weight="normal" fill="#1a1a1a" stroke="#1a1a1a" stroke-width="0.22" >60</text>
<line x1="114.95" y1="609.60" x2="114.95" y2="607.70" stroke="#2a2a2a" stroke-width="1.05"/>
<line x1="124.98" y1="609.60" x2="124.98" y2="607.20" stroke="#2a2a2a" stroke-width="1.05"/>
<text x="124.98" y="618.75" font-size="7" text-anchor="middle" font-weight="normal" fill="#1a1a1a" stroke="#1a1a1a" stroke-width="0.22" >80</text>
<line x1="135.02" y1="609.60" x2="135.02" y2="607.70" stroke="#2a2a2a" stroke-width="1.05"/>
<line x1="145.05" y1="609.60" x2="145.05" y2="607.20" stroke="#2a2a2a" stroke-width="1.05"/>
<text x="145.05" y="618.75" font-size="7" text-anchor="middle" font-weight="normal" fill="#1a1a1a" stroke="#1a1a1a" stroke-width="0.22" >100</text>
<line x1="155.09" y1="609.60" x2="155.09" y2="607.70" stroke="#2a2a2a" stroke-width="1.05"/>
<line x1="165.12" y1="609.60" x2="165.12" y2="607.20" stroke="#2a2a2a" stroke-width="1.05"/>
<text x="165.12" y="618.75" font-size="7" text-anchor="middle" font-weight="normal" fill="#1a1a1a" stroke="#1a1a1a" stroke-width="0.22" >120</text>
<line x1="42.30" y1="592.80" x2="44.20" y2="592.80" stroke="#2a2a2a" stroke-width="1.05"/>
<line x1="42.30" y1="564.80" x2="44.20" y2="564.80" stroke="#2a2a2a" stroke-width="1.05"/>
<line x1="42.30" y1="536.80" x2="44.20" y2="536.80" stroke="#2a2a2a" stroke-width="1.05"/>
<line x1="42.30" y1="508.80" x2="44.20" y2="508.80" stroke="#2a2a2a" stroke-width="1.05"/>
<line x1="42.30" y1="480.80" x2="44.20" y2="480.80" stroke="#2a2a2a" stroke-width="1.05"/>
<line x1="42.30" y1="606.80" x2="44.70" y2="606.80" stroke="#2a2a2a" stroke-width="1.05"/>
<text x="39.20" y="609.25" font-size="7" text-anchor="end" font-weight="normal" fill="#1a1a1a" stroke="#1a1a1a" stroke-width="0.22" >0</text>
<line x1="42.30" y1="578.80" x2="44.70" y2="578.80" stroke="#2a2a2a" stroke-width="1.05"/>
<text x="39.20" y="581.25" font-size="7" text-anchor="end" font-weight="normal" fill="#1a1a1a" stroke="#1a1a1a" stroke-width="0.22" >20</text>
<line x1="42.30" y1="550.80" x2="44.70" y2="550.80" stroke="#2a2a2a" stroke-width="1.05"/>
<text x="39.20" y="553.25" font-size="7" text-anchor="end" font-weight="normal" fill="#1a1a1a" stroke="#1a1a1a" stroke-width="0.22" >40</text>
<line x1="42.30" y1="522.80" x2="44.70" y2="522.80" stroke="#2a2a2a" stroke-width="1.05"/>
<text x="39.20" y="525.25" font-size="7" text-anchor="end" font-weight="normal" fill="#1a1a1a" stroke="#1a1a1a" stroke-width="0.22" >60</text>
<line x1="42.30" y1="494.80" x2="44.70" y2="494.80" stroke="#2a2a2a" stroke-width="1.05"/>
<text x="39.20" y="497.25" font-size="7" text-anchor="end" font-weight="normal" fill="#1a1a1a" stroke="#1a1a1a" stroke-width="0.22" >80</text>
<line x1="42.30" y1="466.80" x2="44.70" y2="466.80" stroke="#2a2a2a" stroke-width="1.05"/>
<text x="39.20" y="469.25" font-size="7" text-anchor="end" font-weight="normal" fill="#1a1a1a" stroke="#1a1a1a" stroke-width="0.22" >100</text>
<path d="M44.70 466.80 H56.90 V490.00 H61.20 V513.50 H65.80 V544.90 H115.00 V547.00" fill="none" stroke="#bdbdbd" stroke-width="1.0" stroke-linejoin="miter"/>
<path d="M44.70 466.80 H45.70 V489.50 H49.70 V499.60 H51.10 V508.20 H53.50 V513.50 H54.80 V521.90 H56.70 H57.60 V527.10 H75.70 V537.20 H77.05 V547.30 H78.40 H101.90 V562.30 H107.30 V585.00 H153.10 V606.80" fill="none" stroke="#6e6e6e" stroke-width="1.0" stroke-linejoin="miter"/>
<path d="M44.70 466.80 H45.70 V491.90 H46.80 V500.50 H48.30 V512.60 H49.20 V519.80 H50.50 V521.90 H51.30 V530.00 H55.00 V538.70 H58.40 V544.40 V548.05 H60.15 V551.70 H61.90 H72.80 V556.15 H74.00 V560.60 H75.20 H81.50 V565.20 H86.70 V570.30 H117.30 V578.80 H117.80 V593.10 H120.60" fill="none" stroke="#1a1a1a" stroke-width="1.2" stroke-linejoin="miter"/>
<line x1="92.50" y1="570.30" x2="92.50" y2="572.50" stroke="#1a1a1a" stroke-width="0.8"/>
<line x1="100.50" y1="570.30" x2="100.50" y2="572.50" stroke="#1a1a1a" stroke-width="0.8"/>
<line x1="107.50" y1="570.30" x2="107.50" y2="572.50" stroke="#1a1a1a" stroke-width="0.8"/>
<line x1="120.60" y1="593.10" x2="120.60" y2="595.30" stroke="#1a1a1a" stroke-width="0.8"/>
<line x1="57.60" y1="527.10" x2="57.60" y2="529.30" stroke="#6e6e6e" stroke-width="0.8"/>
<line x1="64.20" y1="527.10" x2="64.20" y2="529.30" stroke="#6e6e6e" stroke-width="0.8"/>
<line x1="72.80" y1="527.10" x2="72.80" y2="529.30" stroke="#6e6e6e" stroke-width="0.8"/>
<line x1="79.80" y1="547.30" x2="79.80" y2="549.50" stroke="#6e6e6e" stroke-width="0.8"/>
<line x1="85.00" y1="547.30" x2="85.00" y2="549.50" stroke="#6e6e6e" stroke-width="0.8"/>
<line x1="92.50" y1="547.30" x2="92.50" y2="549.50" stroke="#6e6e6e" stroke-width="0.8"/>
<line x1="102.50" y1="562.30" x2="102.50" y2="564.50" stroke="#6e6e6e" stroke-width="0.8"/>
<line x1="115.00" y1="544.90" x2="115.00" y2="547.10" stroke="#bdbdbd" stroke-width="0.8"/>
<rect x="42.30" y="465.00" width="125.00" height="144.60" fill="none" stroke="#2a2a2a" stroke-width="1.45"/>
<text x="104.70" y="459.50" font-size="7.5" text-anchor="middle" font-weight="normal" fill="#1a1a1a" stroke="#1a1a1a" stroke-width="0.22" >OS</text>
<text x="100.30" y="481.70" font-size="12.45" text-anchor="start" font-weight="normal" fill="#1a1a1a" stroke="#1a1a1a" stroke-width="0.22" >p = 0,3880</text>
<text x="105.00" y="630.20" font-size="7.75" text-anchor="middle" font-weight="normal" fill="#1a1a1a" stroke="#1a1a1a" stroke-width="0.22" >Time (months)</text>
<text x="17.90" y="537.30" font-size="8.0" text-anchor="middle" font-weight="normal" fill="#1a1a1a" stroke="#1a1a1a" stroke-width="0.22" transform="rotate(-90 17.90 537.30)">Survival probability (%)</text>
<rect x="175.50" y="508.50" width="71.80" height="41.80" fill="none" stroke="#2a2a2a" stroke-width="0.9"/>
<text x="178.40" y="517.50" font-size="7.9" text-anchor="start" font-weight="normal" fill="#1a1a1a" stroke="#1a1a1a" stroke-width="0.22" >IPI</text>
<line x1="179.00" y1="524.90" x2="192.80" y2="524.90" stroke="#2a2a2a" stroke-width="1.15"/>
<text x="196.60" y="526.60" font-size="7.9" text-anchor="start" font-weight="normal" fill="#1a1a1a" stroke="#1a1a1a" stroke-width="0.22" >High</text>
<line x1="179.00" y1="533.90" x2="192.80" y2="533.90" stroke="#858585" stroke-width="1.2"/>
<text x="196.60" y="535.80" font-size="7.9" text-anchor="start" font-weight="normal" fill="#1a1a1a" stroke="#1a1a1a" stroke-width="0.22" >Intermediate</text>
<line x1="179.00" y1="543.10" x2="192.80" y2="543.10" stroke="#c8c8c8" stroke-width="1.2"/>
<text x="196.60" y="544.80" font-size="7.9" text-anchor="start" font-weight="normal" fill="#1a1a1a" stroke="#1a1a1a" stroke-width="0.22" >Low</text>
<line x1="304.70" y1="607.70" x2="304.70" y2="605.30" stroke="#2a2a2a" stroke-width="1.05"/>
<text x="304.70" y="616.60" font-size="7" text-anchor="middle" font-weight="normal" fill="#1a1a1a" stroke="#1a1a1a" stroke-width="0.22" >0</text>
<line x1="319.85" y1="607.70" x2="319.85" y2="605.80" stroke="#2a2a2a" stroke-width="1.05"/>
<line x1="335.00" y1="607.70" x2="335.00" y2="605.30" stroke="#2a2a2a" stroke-width="1.05"/>
<text x="335.00" y="616.60" font-size="7" text-anchor="middle" font-weight="normal" fill="#1a1a1a" stroke="#1a1a1a" stroke-width="0.22" >20</text>
<line x1="350.15" y1="607.70" x2="350.15" y2="605.80" stroke="#2a2a2a" stroke-width="1.05"/>
<line x1="365.30" y1="607.70" x2="365.30" y2="605.30" stroke="#2a2a2a" stroke-width="1.05"/>
<text x="365.30" y="616.60" font-size="7" text-anchor="middle" font-weight="normal" fill="#1a1a1a" stroke="#1a1a1a" stroke-width="0.22" >40</text>
<line x1="380.45" y1="607.70" x2="380.45" y2="605.80" stroke="#2a2a2a" stroke-width="1.05"/>
<line x1="395.60" y1="607.70" x2="395.60" y2="605.30" stroke="#2a2a2a" stroke-width="1.05"/>
<text x="395.60" y="616.60" font-size="7" text-anchor="middle" font-weight="normal" fill="#1a1a1a" stroke="#1a1a1a" stroke-width="0.22" >60</text>
<line x1="410.75" y1="607.70" x2="410.75" y2="605.80" stroke="#2a2a2a" stroke-width="1.05"/>
<line x1="425.90" y1="607.70" x2="425.90" y2="605.30" stroke="#2a2a2a" stroke-width="1.05"/>
<text x="425.90" y="616.60" font-size="7" text-anchor="middle" font-weight="normal" fill="#1a1a1a" stroke="#1a1a1a" stroke-width="0.22" >80</text>
<line x1="303.20" y1="590.78" x2="305.10" y2="590.78" stroke="#2a2a2a" stroke-width="1.05"/>
<line x1="303.20" y1="562.74" x2="305.10" y2="562.74" stroke="#2a2a2a" stroke-width="1.05"/>
<line x1="303.20" y1="534.70" x2="305.10" y2="534.70" stroke="#2a2a2a" stroke-width="1.05"/>
<line x1="303.20" y1="506.66" x2="305.10" y2="506.66" stroke="#2a2a2a" stroke-width="1.05"/>
<line x1="303.20" y1="478.62" x2="305.10" y2="478.62" stroke="#2a2a2a" stroke-width="1.05"/>
<line x1="303.20" y1="604.80" x2="305.60" y2="604.80" stroke="#2a2a2a" stroke-width="1.05"/>
<text x="300.10" y="607.25" font-size="7" text-anchor="end" font-weight="normal" fill="#1a1a1a" stroke="#1a1a1a" stroke-width="0.22" >0</text>
<line x1="303.20" y1="576.76" x2="305.60" y2="576.76" stroke="#2a2a2a" stroke-width="1.05"/>
<text x="300.10" y="579.21" font-size="7" text-anchor="end" font-weight="normal" fill="#1a1a1a" stroke="#1a1a1a" stroke-width="0.22" >20</text>
<line x1="303.20" y1="548.72" x2="305.60" y2="548.72" stroke="#2a2a2a" stroke-width="1.05"/>
<text x="300.10" y="551.17" font-size="7" text-anchor="end" font-weight="normal" fill="#1a1a1a" stroke="#1a1a1a" stroke-width="0.22" >40</text>
<line x1="303.20" y1="520.68" x2="305.60" y2="520.68" stroke="#2a2a2a" stroke-width="1.05"/>
<text x="300.10" y="523.13" font-size="7" text-anchor="end" font-weight="normal" fill="#1a1a1a" stroke="#1a1a1a" stroke-width="0.22" >60</text>
<line x1="303.20" y1="492.64" x2="305.60" y2="492.64" stroke="#2a2a2a" stroke-width="1.05"/>
<text x="300.10" y="495.09" font-size="7" text-anchor="end" font-weight="normal" fill="#1a1a1a" stroke="#1a1a1a" stroke-width="0.22" >80</text>
<line x1="303.20" y1="464.60" x2="305.60" y2="464.60" stroke="#2a2a2a" stroke-width="1.05"/>
<text x="300.10" y="467.05" font-size="7" text-anchor="end" font-weight="normal" fill="#1a1a1a" stroke="#1a1a1a" stroke-width="0.22" >100</text>
<path d="M304.70 464.60 H306.80 V493.70 H308.30 V511.00 H309.30 V511.90 V520.27 H310.60 V528.65 H311.90 V537.02 H313.20 V545.40 H314.50 H320.30 V549.22 H321.78 V553.03 H323.27 V556.85 H324.75 V560.67 H326.23 V564.48 H327.72 V568.30 H329.20 H350.60 V573.50 H361.00 V578.60 H419.60" fill="none" stroke="#1a1a1a" stroke-width="1.2" stroke-linejoin="miter"/>
<path d="M304.70 464.60 H306.80 V492.80 H308.80 V496.60 H315.30 V512.50 H318.00 V519.93 H319.73 V527.37 H321.47 V534.80 H323.20 H349.70 V551.50 H351.20 H361.50 V562.50 H367.90 V576.90 H398.30 V604.80" fill="none" stroke="#6e6e6e" stroke-width="1.0" stroke-linejoin="miter"/>
<path d="M304.70 464.60 H309.70 V485.10 H323.40 V509.30 H335.40 V557.20 H410.40 V559.00" fill="none" stroke="#bdbdbd" stroke-width="1.0" stroke-linejoin="miter"/>
<line x1="317.40" y1="545.40" x2="317.40" y2="547.60" stroke="#1a1a1a" stroke-width="0.8"/>
<line x1="351.70" y1="573.50" x2="351.70" y2="575.70" stroke="#1a1a1a" stroke-width="0.8"/>
<line x1="377.50" y1="578.60" x2="377.50" y2="580.80" stroke="#1a1a1a" stroke-width="0.8"/>
<line x1="400.00" y1="578.60" x2="400.00" y2="580.80" stroke="#1a1a1a" stroke-width="0.8"/>
<line x1="413.60" y1="578.60" x2="413.60" y2="580.80" stroke="#1a1a1a" stroke-width="0.8"/>
<line x1="419.60" y1="578.60" x2="419.60" y2="580.80" stroke="#1a1a1a" stroke-width="0.8"/>
<line x1="314.50" y1="496.60" x2="314.50" y2="498.80" stroke="#6e6e6e" stroke-width="0.8"/>
<line x1="324.30" y1="534.80" x2="324.30" y2="537.00" stroke="#6e6e6e" stroke-width="0.8"/>
<line x1="339.90" y1="534.80" x2="339.90" y2="537.00" stroke="#6e6e6e" stroke-width="0.8"/>
<line x1="349.20" y1="534.80" x2="349.20" y2="537.00" stroke="#6e6e6e" stroke-width="0.8"/>
<line x1="360.70" y1="551.50" x2="360.70" y2="553.70" stroke="#6e6e6e" stroke-width="0.8"/>
<line x1="365.60" y1="562.50" x2="365.60" y2="564.70" stroke="#6e6e6e" stroke-width="0.8"/>
<line x1="312.60" y1="485.10" x2="312.60" y2="487.30" stroke="#bdbdbd" stroke-width="0.8"/>
<line x1="329.40" y1="509.30" x2="329.40" y2="511.50" stroke="#bdbdbd" stroke-width="0.8"/>
<line x1="333.80" y1="509.30" x2="333.80" y2="511.50" stroke="#bdbdbd" stroke-width="0.8"/>
<rect x="303.20" y="462.70" width="124.80" height="145.00" fill="none" stroke="#2a2a2a" stroke-width="1.45"/>
<text x="365.40" y="457.80" font-size="7.5" text-anchor="middle" font-weight="normal" fill="#1a1a1a" stroke="#1a1a1a" stroke-width="0.22" >PFS</text>
<text x="358.30" y="479.60" font-size="12.45" text-anchor="start" font-weight="normal" fill="#1a1a1a" stroke="#1a1a1a" stroke-width="0.22" >p = 0,2032</text>
<text x="365.10" y="628.20" font-size="7.75" text-anchor="middle" font-weight="normal" fill="#1a1a1a" stroke="#1a1a1a" stroke-width="0.22" >Time (months)</text>
<text x="279.30" y="535.30" font-size="7.95" text-anchor="middle" font-weight="normal" fill="#1a1a1a" stroke="#1a1a1a" stroke-width="0.22" transform="rotate(-90 279.30 535.30)">Survival probability (%)</text>
<rect x="435.70" y="514.50" width="72.20" height="41.90" fill="none" stroke="#2a2a2a" stroke-width="0.9"/>
<text x="438.90" y="523.70" font-size="7.9" text-anchor="start" font-weight="normal" fill="#1a1a1a" stroke="#1a1a1a" stroke-width="0.22" >IPI</text>
<line x1="439.50" y1="531.00" x2="453.40" y2="531.00" stroke="#2a2a2a" stroke-width="1.15"/>
<text x="456.70" y="533.00" font-size="7.9" text-anchor="start" font-weight="normal" fill="#1a1a1a" stroke="#1a1a1a" stroke-width="0.22" >High</text>
<line x1="439.50" y1="540.10" x2="453.40" y2="540.10" stroke="#858585" stroke-width="1.2"/>
<text x="456.70" y="542.20" font-size="7.9" text-anchor="start" font-weight="normal" fill="#1a1a1a" stroke="#1a1a1a" stroke-width="0.22" >Intermediate</text>
<line x1="439.50" y1="549.10" x2="453.40" y2="549.10" stroke="#c8c8c8" stroke-width="1.2"/>
<text x="456.70" y="550.80" font-size="7.9" text-anchor="start" font-weight="normal" fill="#1a1a1a" stroke="#1a1a1a" stroke-width="0.22" >Low</text>
<text x="11.40" y="16.20" font-size="14.2" text-anchor="start" font-weight="bold" fill="#111" stroke="#111" stroke-width="0" >A</text>
<text x="11.60" y="229.50" font-size="14.2" text-anchor="start" font-weight="bold" fill="#111" stroke="#111" stroke-width="0" >B</text>
<text x="11.20" y="442.60" font-size="14.2" text-anchor="start" font-weight="bold" fill="#111" stroke="#111" stroke-width="0" >C</text>
</svg></body></html>
